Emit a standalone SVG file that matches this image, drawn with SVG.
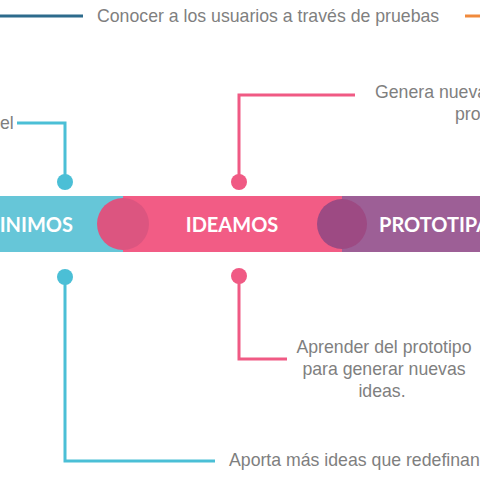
<svg xmlns="http://www.w3.org/2000/svg" width="480" height="480" viewBox="0 0 480 480">
<style>
.t{font-family:"Liberation Sans",Arial,sans-serif;font-size:17.7px;fill:#7f7f7f}
.h{font-family:Lato,"Open Sans",sans-serif;font-size:20px;font-weight:bold;fill:#ffffff}
.c{fill:none;stroke-width:3}
</style>
<rect width="480" height="480" fill="#ffffff"/>
<g id="connectors">
<line class="c" x1="0" y1="16" x2="83" y2="16" stroke="#2d6b8c"/>
<line class="c" x1="465" y1="16" x2="480" y2="16" stroke="#f08a3c"/>
<polyline class="c" points="17,123 65,123 65,182" stroke="#4bbfd6"/>
<polyline class="c" points="355,95 239,95 239,182" stroke="#f05a84"/>
<polyline class="c" points="239,276 239,359 287,359" stroke="#f05a84"/>
<polyline class="c" points="65,277 65,461 215,461" stroke="#4bbfd6"/>
</g>
<g id="legend">
<text class="t" x="97" y="22">Conocer a los usuarios a través de pruebas</text>
</g>
<g id="bar">
<rect x="0" y="196" width="123" height="56" fill="#66c6d8"/>
<rect x="123" y="196" width="219" height="56" fill="#f25c85"/>
<rect x="342" y="196" width="138" height="56" fill="#9d5f96"/>
<circle cx="123" cy="224" r="26" fill="#dc5580"/>
<circle cx="342" cy="224" r="25" fill="#9d4a83"/>
</g>
<g id="definimos">
<text class="h" x="73" y="232" text-anchor="end">INIMOS</text>
<circle cx="65" cy="182" r="8" fill="#4bbfd6"/>
<circle cx="65" cy="277" r="8" fill="#4bbfd6"/>
<text class="t" x="0" y="129">el</text>
<text class="t" x="229" y="466">Aporta más ideas que redefinan</text>
</g>
<g id="ideamos">
<text class="h" x="232" y="232" text-anchor="middle">IDEAMOS</text>
<circle cx="239" cy="182" r="8" fill="#f05a84"/>
<circle cx="239" cy="276" r="8" fill="#f05a84"/>
<text class="t" x="375" y="98">Genera nueva</text>
<text class="t" x="455" y="120">pro</text>
<text class="t" text-anchor="middle"><tspan x="384" y="353">Aprender del prototipo</tspan><tspan x="384" y="375">para generar nuevas</tspan><tspan x="382" y="397">ideas.</tspan></text>
</g>
<g id="prototipamos">
<text class="h" x="379" y="232">PROTOTIPAMOS</text>
</g>
</svg>
